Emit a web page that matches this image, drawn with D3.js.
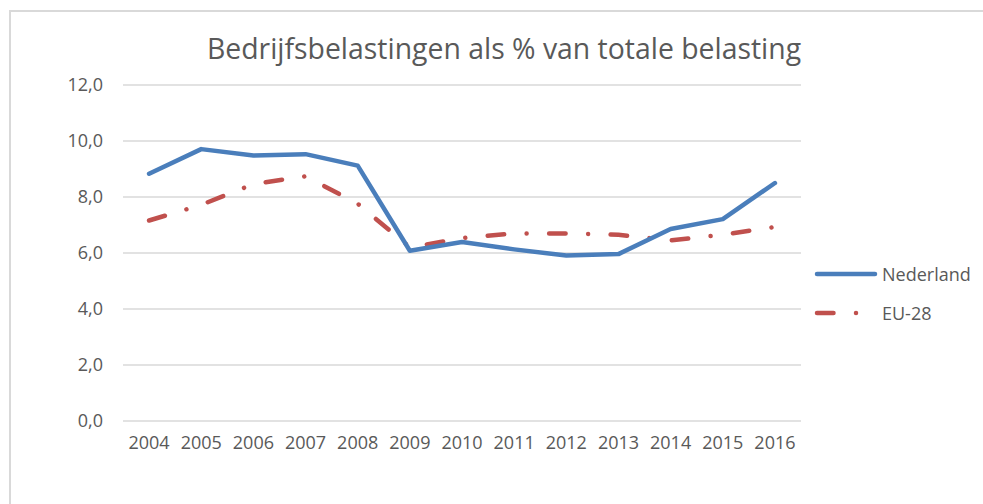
<!DOCTYPE html>
<html>
<head>
<meta charset="utf-8">
<script src="https://cdn.jsdelivr.net/npm/d3@7"></script>
<style>
  html, body { margin: 0; padding: 0; background: #fff; }
  svg { display: block; }
  text { font-family: "Open Sans", sans-serif; fill: #595959; }
</style>
</head>
<body>
<svg id="chart" width="983" height="504"></svg>
<script>
const years = ["2004","2005","2006","2007","2008","2009","2010","2011","2012","2013","2014","2015","2016"];
const nederland = [8.83, 9.71, 9.48, 9.53, 9.12, 6.08, 6.39, 6.13, 5.91, 5.96, 6.86, 7.21, 8.50];
const eu28 = [7.16, 7.72, 8.46, 8.74, 7.76, 6.20, 6.53, 6.70, 6.70, 6.65, 6.45, 6.65, 6.93];
const yTicks = [0, 2, 4, 6, 8, 10, 12];
const seriesNames = ["Nederland", "EU-28"];
const title = "Bedrijfsbelastingen als % van totale belasting";

(function () {
const svg = d3.select("#chart");
const W = 983, H = 504;

// chart area border (extends beyond the right/bottom edges)
svg.append("rect")
  .attr("x", 10).attr("y", 11)
  .attr("width", W + 20).attr("height", H + 20)
  .attr("fill", "#fff")
  .attr("stroke", "#d9d9d9").attr("stroke-width", 2);

const pLeft = 123, pRight = 801, pTop = 85, pBottom = 421;
const x = d3.scaleBand().domain(years).range([pLeft, pRight]);
const y = d3.scaleLinear().domain([0, 12]).range([pBottom, pTop]);

// gridlines
svg.append("g").selectAll("line").data(yTicks).join("line")
  .attr("x1", pLeft).attr("x2", pRight)
  .attr("y1", d => y(d)).attr("y2", d => y(d))
  .attr("stroke", "#d9d9d9").attr("stroke-width", 1.5);

// y axis labels
const fmt = d => d.toFixed(1).replace(".", ",");
const yAxis = d3.axisLeft(y).tickValues(yTicks).tickFormat(fmt).tickSize(0).tickPadding(20);
const gy = svg.append("g").attr("transform", `translate(${pLeft},0)`).call(yAxis);
gy.select(".domain").remove();
gy.selectAll("text").attr("font-size", 18).attr("fill", "#595959")
  .attr("font-family", "'Open Sans', sans-serif");

// x axis labels
const xAxis = d3.axisBottom(x).tickSize(0).tickPadding(15);
const gx = svg.append("g").attr("transform", `translate(0,${pBottom})`).call(xAxis);
gx.select(".domain").remove();
gx.selectAll("text").attr("font-size", 18).attr("fill", "#595959")
  .attr("font-family", "'Open Sans', sans-serif");

const cx = d => x(d) + x.bandwidth() / 2;
const line = d3.line().x((d, i) => cx(years[i])).y(d => y(d));

const blue = "#4a7ebb", red = "#c0504d";
const dash = "16.5,22.5,0.01,22.5";

svg.append("path").datum(eu28)
  .attr("d", line)
  .attr("fill", "none").attr("stroke", red).attr("stroke-width", 4.5)
  .attr("stroke-linecap", "round").attr("stroke-linejoin", "round")
  .attr("stroke-dasharray", dash);

svg.append("path").datum(nederland)
  .attr("d", line)
  .attr("fill", "none").attr("stroke", blue).attr("stroke-width", 4.5)
  .attr("stroke-linecap", "round").attr("stroke-linejoin", "round");

// title
svg.append("text")
  .attr("x", 504).attr("y", 59)
  .attr("text-anchor", "middle")
  .attr("font-size", 28.4)
  .attr("fill", "#595959")
  .text(title);

// legend
const legend = svg.append("g");
const legItems = [
  { name: seriesNames[0], color: blue, dash: null, y: 274 },
  { name: seriesNames[1], color: red, dash: dash, y: 313 }
];
legItems.forEach(it => {
  legend.append("line")
    .attr("x1", 817).attr("x2", 875)
    .attr("y1", it.y).attr("y2", it.y)
    .attr("stroke", it.color).attr("stroke-width", 4.5)
    .attr("stroke-linecap", "round")
    .attr("stroke-dasharray", it.dash);
  legend.append("text")
    .attr("x", 882).attr("y", it.y + 6.5)
    .attr("font-size", 18)
    .text(it.name);
});
})();
</script>
</body>
</html>
